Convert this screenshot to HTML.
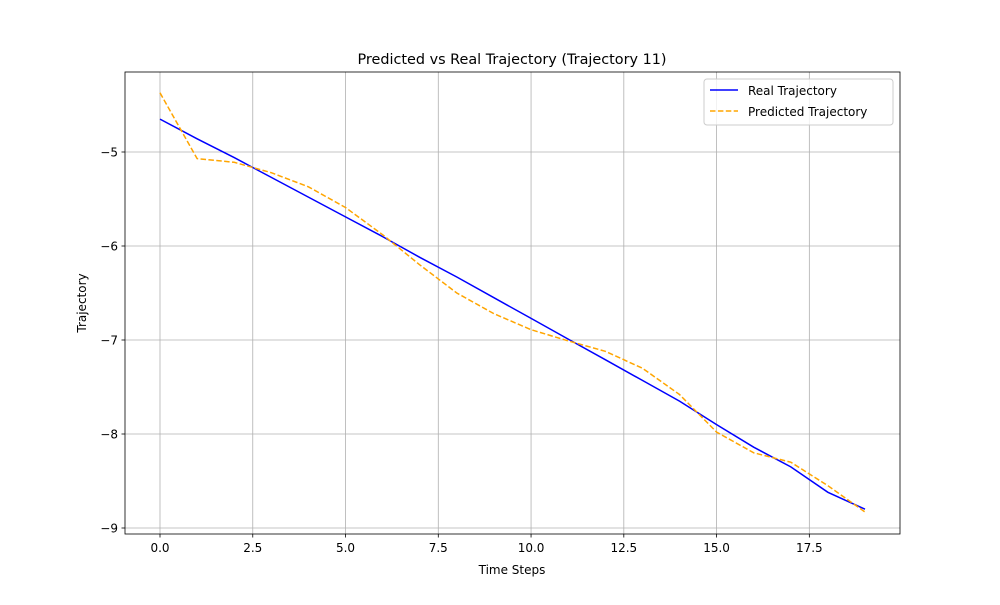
<!DOCTYPE html>
<html><head><meta charset="utf-8"><style>
body{margin:0;background:#fff;font-family:"Liberation Sans","DejaVu Sans",sans-serif;}
svg text{font-family:"DejaVu Sans","Liberation Sans",sans-serif;}
</style></head><body>
<svg id="chart" width="1000" height="600" xmlns="http://www.w3.org/2000/svg">
<rect width="1000" height="600" fill="#fff"/>
<g id="grid"></g>
<g id="series"></g>
<rect x="125" y="72" width="775" height="462" fill="none" stroke="#000" stroke-width="0.8"/>
<g id="ticks"></g>
<text x="512" y="64" font-size="14.4" text-anchor="middle">Predicted vs Real Trajectory (Trajectory 11)</text>
<text x="512" y="574" font-size="12" text-anchor="middle">Time Steps</text>
<text x="86" y="303" font-size="12" text-anchor="middle" transform="rotate(-90 86 303)">Trajectory</text>
<g>
<rect x="704" y="79" width="189" height="46" rx="3" fill="#fff" fill-opacity="0.8" stroke="#ccc"/>
<line x1="710" y1="90" x2="738" y2="90" stroke="blue" stroke-width="1.5"/>
<text x="748" y="95" font-size="12">Real Trajectory</text>
<line x1="710" y1="111" x2="738" y2="111" stroke="orange" stroke-width="1.5" stroke-dasharray="5.5,2.4"/>
<text x="748" y="116" font-size="12">Predicted Trajectory</text>
</g>
</svg>
<script>
const steps=[0,1,2,3,4,5,6,7,8,9,10,11,12,13,14,15,16,17,18,19];
const realValues=[-4.65,-4.86,-5.06,-5.27,-5.48,-5.69,-5.90,-6.12,-6.33,-6.55,-6.77,-6.99,-7.21,-7.43,-7.65,-7.90,-8.14,-8.35,-8.62,-8.80];
const predictedValues=[-4.37,-5.07,-5.11,-5.22,-5.37,-5.59,-5.88,-6.20,-6.50,-6.72,-6.89,-7.01,-7.12,-7.30,-7.58,-7.98,-8.20,-8.30,-8.55,-8.83];
const xTicks=[0,2.5,5,7.5,10,12.5,15,17.5];
const xTickLabels=["0.0","2.5","5.0","7.5","10.0","12.5","15.0","17.5"];
const yTicks=[-5,-6,-7,-8,-9];
const yTickLabels=["\u22125","\u22126","\u22127","\u22128","\u22129"];
const X=v=>160+v*(705/19);
const Y=v=>152+(-5-v)*94;
const NS="http://www.w3.org/2000/svg";
function mk(t,a,p){const e=document.createElementNS(NS,t);for(const k in a)e.setAttribute(k,a[k]);p.appendChild(e);return e;}
const grid=document.getElementById('grid'),ticks=document.getElementById('ticks'),ser=document.getElementById('series');
xTicks.forEach((v,i)=>{
 const g=mk('line',{x1:X(v),x2:X(v),y1:72,y2:534,stroke:'#b0b0b0','stroke-width':0.8},grid);
 
 
 const t=mk('line',{x1:X(v),x2:X(v),y1:534,y2:537.5,stroke:'#000','stroke-width':0.8},ticks);
 
 
 const l=mk('text',{x:X(v),y:552,'font-size':12,'text-anchor':'middle'},ticks);l.textContent=xTickLabels[i];
 
 
});
yTicks.forEach((v,i)=>{
 const g=mk('line',{x1:125,x2:900,y1:Y(v),y2:Y(v),stroke:'#b0b0b0','stroke-width':0.8},grid);
 
 
 const t=mk('line',{x1:121.5,x2:125,y1:Y(v),y2:Y(v),stroke:'#000','stroke-width':0.8},ticks);
 
 
 const l=mk('text',{x:118,y:Y(v)+4.5,'font-size':12,'text-anchor':'end'},ticks);l.textContent=yTickLabels[i];
 
 
});
const pts=a=>steps.map((s,i)=>X(s).toFixed(1)+','+Y(a[i]).toFixed(1)).join(' ');
const r=mk('polyline',{points:pts(realValues),fill:'none',stroke:'blue','stroke-width':1.5},ser);


const p=mk('polyline',{points:pts(predictedValues),fill:'none',stroke:'orange','stroke-width':1.5,'stroke-dasharray':'5.5,2.4'},ser);


</script>
</body></html>
